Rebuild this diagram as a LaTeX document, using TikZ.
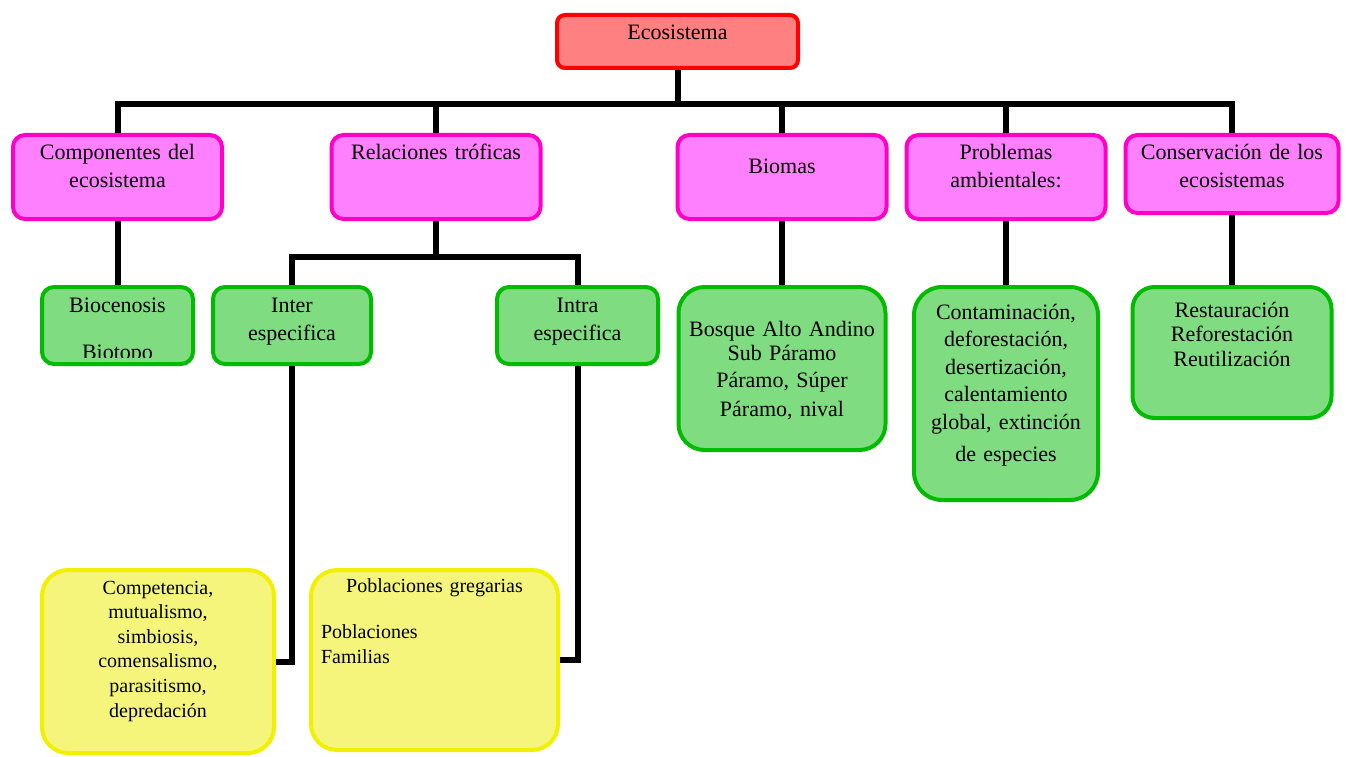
\documentclass[tikz,border=0pt]{standalone}
\usepackage{fontspec}
\setmainfont{Liberation Serif}
\definecolor{rootfill}{HTML}{FF8080}
\definecolor{rootline}{HTML}{FF0000}
\definecolor{pinkfill}{HTML}{FF80FF}
\definecolor{pinkline}{HTML}{FF00C8}
\definecolor{greenfill}{HTML}{80DC80}
\definecolor{greenline}{HTML}{00BB00}
\definecolor{yellowfill}{HTML}{F5F57C}
\definecolor{yellowline}{HTML}{F0F000}

\begin{document}
\begin{tikzpicture}[x=1pt,y=-1pt]
   \tikzstyle{every node}=[inner ysep=0pt,inner xsep=4pt,align=center,font=\fontsize{22}{28}\selectfont]
   \tikzstyle{rootbox}=[draw=rootline,fill=rootfill,line width=4pt,rounded corners=8pt,anchor=north]
   \tikzstyle{pinkbox}=[draw=pinkline,fill=pinkfill,line width=4pt,rounded corners=12pt,anchor=north,text width=201pt,text height=25pt,text depth=59pt]
   \tikzstyle{greenbox}=[draw=greenline,fill=greenfill,line width=4pt,rounded corners=12pt,anchor=north,text height=25pt,text depth=52pt]
   \tikzstyle{yellowbox}=[draw=yellowline,fill=yellowfill,line width=4pt,rounded corners=26pt,anchor=north,font=\fontsize{20}{24.6}\selectfont]
   \tikzstyle{conn}=[line width=6pt]

   \useasboundingbox (0,0) rectangle (1352,757);

   \node (eco) [rootbox,text width=233pt,text height=25pt,text depth=28pt] at (677.5,13) {Ecosistema} ;

   \node (comp) [pinkbox] at (117.5,133) {Componentes del\\ecosistema} ;
   \node (rel) [pinkbox] at (436,133) {Relaciones tróficas} ;
   \node (biom) [pinkbox,text height=39pt,text depth=45pt] at (782,133) {Biomas} ;
   \node (prob) [pinkbox,text width=191pt] at (1006,133) {Problemas\\ambientales:} ;
   \node (cons) [pinkbox,text width=205pt,text depth=53pt] at (1232,133) {Conservación de los\\ecosistemas} ;

   \node (bcn) [greenbox,text width=143pt,
      path picture={\clip ([yshift=7pt]path picture bounding box.south west) rectangle (path picture bounding box.north east);
         \node (biot) [anchor=base,text width={},text height={},text depth={}] at ([yshift=-72pt]path picture bounding box.north) {Biotopo};}]
      at (117.5,285) {Biocenosis\hspace*{10pt}} ;
   \node (inter) [greenbox,text width=150pt] at (292,285) {Inter\hspace*{32pt}\\especifica\hspace*{32pt}} ;
   \node (intra) [greenbox,text width=153pt] at (577.5,285) {Intra\hspace*{35pt}\\especifica\hspace*{35pt}} ;
   \node (bosq) [greenbox,text width=199pt,text height=49pt,text depth=114pt,rounded corners=26pt,font=\fontsize{22}{24}\selectfont]
      at (782,285) {Bosque Alto Andino\\Sub Páramo\\[3pt]Páramo, Súper\\[5pt]Páramo, nival} ;
   \node (cont) [greenbox,text width=176pt,text height=32pt,text depth=181pt,rounded corners=28pt,font=\fontsize{22}{27.5}\selectfont]
      at (1006,285) {Contaminación,\\deforestación,\\desertización,\\calentamiento\\global, extinción\\[5pt]de especies} ;
   \node (rest) [greenbox,text width=191pt,text height=30pt,text depth=101pt,rounded corners=22pt,font=\fontsize{22}{24.5}\selectfont]
      at (1232,285) {Restauración\\Reforestación\\Reutilización} ;

   \node (compe) [yellowbox,text width=224pt,text height=24pt,text depth=159pt] at (158,568)
      {Competencia,\hspace*{22pt}\\mutualismo,\hspace*{22pt}\\simbiosis,\hspace*{22pt}\\comensalismo,\hspace*{22pt}\\parasitismo,\hspace*{22pt}\\depredación\hspace*{22pt}} ;
   \node (pobl) [yellowbox,inner xsep=10pt,text width=227pt,text height=22pt,text depth=158pt,align=left,font=\fontsize{20}{25}\selectfont]
      at (434.5,568) {\makebox[\linewidth]{Poblaciones gregarias}\\[21pt]Poblaciones\\Familias} ;

   \draw [conn] (eco.south) -- ++(0,34) coordinate (bus) ;
   \draw [conn] (bus) -| (comp.north) ;
   \draw [conn] (bus) -| (rel.north) ;
   \draw [conn] (bus) -| (biom.north) ;
   \draw [conn] (bus) -| (prob.north) ;
   \draw [conn] (bus) -| (cons.north) ;

   \draw [conn] (rel.south) -- ++(0,36) coordinate (sub) ;
   \draw [conn] (sub) -| (inter.north) ;
   \draw [conn] (sub) -| (intra.north) ;

   \draw [conn] (comp.south) -- (bcn.north) ;
   \draw [conn] (biom.south) -- (bosq.north) ;
   \draw [conn] (prob.south) -- (cont.north) ;
   \draw [conn] (cons.south) -- (rest.north) ;

   \draw [conn] (inter.south) |- (compe.east) ;
   \draw [conn] (intra.south) |- (pobl.east) ;

\end{tikzpicture}
\end{document}
